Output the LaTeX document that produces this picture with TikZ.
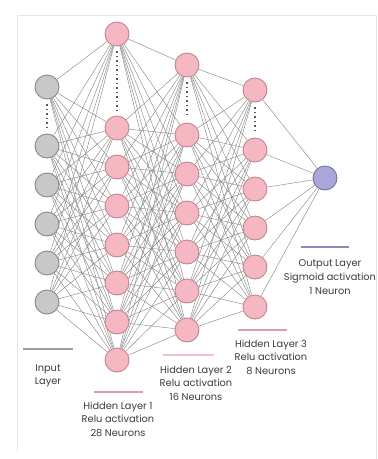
\documentclass[tikz,border=0pt]{standalone}
\usepackage{fontspec}
\setmainfont{Poppins}
\usetikzlibrary{backgrounds}
\definecolor{pinkfill}{HTML}{F5B8C2}
\definecolor{pinkdraw}{HTML}{C08590}
\definecolor{grayfill}{HTML}{C8C8C8}
\definecolor{graydraw}{HTML}{888888}
\definecolor{purpfill}{HTML}{ABA6DA}
\definecolor{purpdraw}{HTML}{77719F}
\definecolor{edgecol}{HTML}{8A8A8A}
\definecolor{framecol}{HTML}{E4E4E4}
\definecolor{txtcol}{HTML}{3A3A3A}
\definecolor{barpink}{HTML}{E09CA6}
\definecolor{barpinklight}{HTML}{F2C2C9}
\definecolor{barpurp}{HTML}{8C87C2}
\definecolor{bargray}{HTML}{A0A0A0}
\tikzset{
  neuron/.style={circle, minimum size=24pt, inner sep=0pt, line width=0.9pt},
  inneuron/.style={neuron, fill=grayfill, draw=graydraw},
  hidneuron/.style={neuron, fill=pinkfill, draw=pinkdraw},
  outneuron/.style={neuron, fill=purpfill, draw=purpdraw},
  conn/.style={draw=edgecol, line width=0.45pt},
  dotline/.style={draw=black!65, line width=1.6pt, dash pattern=on 1.5pt off 3pt},
  bar/.style={line width=2.4pt},
  lbl/.style={font=\fontsize{9.8}{13.6}\selectfont, text=txtcol, align=center, inner sep=0pt},
}
\begin{document}
\begin{tikzpicture}[x=1pt,y=-1pt]
\useasboundingbox (0,0) rectangle (378,459);
\draw[framecol, line width=1pt] (17,451) -- (17,15) -- (376,15) -- (376,459);
% input layer
\foreach \y [count=\i] in {87,146,185,224,263,302}
  \node[inneuron] (i\i) at (47,\y) {};
% hidden 1
\foreach \y [count=\i] in {34,128,167,206,245,283,322,360}
  \node[hidneuron] (a\i) at (117,\y) {};
% hidden 2
\foreach \y [count=\i] in {65,135,174,213,252,291,330}
  \node[hidneuron] (b\i) at (187,\y) {};
% hidden 3
\foreach \y [count=\i] in {90,150,189,228,267,307}
  \node[hidneuron] (c\i) at (255,\y) {};
% output
\node[outneuron] (o) at (325,178) {};
% connections
\begin{scope}[on background layer]
\foreach \s in {1,...,6} \foreach \t in {1,...,8} \draw[conn] (i\s) -- (a\t);
\foreach \s in {1,...,8} \foreach \t in {1,...,7} \draw[conn] (a\s) -- (b\t);
\foreach \s in {1,...,7} \foreach \t in {1,...,6} \draw[conn] (b\s) -- (c\t);
\foreach \s in {1,...,6} \draw[conn] (c\s) -- (o);
\end{scope}
% dotted lines
\path (i1.south) ++(0,5) coordinate (di1) (i2.north) ++(0,-5) coordinate (di2);
\draw[dotline] (di1) -- (di2);
\path (a1.south) ++(0,5) coordinate (da1) (a2.north) ++(0,-5) coordinate (da2);
\draw[dotline] (da1) -- (da2);
\path (b1.south) ++(0,5) coordinate (db1) (b2.north) ++(0,-5) coordinate (db2);
\draw[dotline] (db1) -- (db2);
\path (c1.south) ++(0,5) coordinate (dc1) (c2.north) ++(0,-5) coordinate (dc2);
\draw[dotline] (dc1) -- (dc2);
% bars
\coordinate (bi1) at (23,349); \coordinate (bi2) at (73,349);
\draw[bar, draw=bargray] (bi1) -- (bi2);
\coordinate (ba1) at (94,392); \coordinate (ba2) at (143,392);
\draw[bar, draw=barpink] (ba1) -- (ba2);
\coordinate (bb1) at (163,355); \coordinate (bb2) at (214,355);
\draw[bar, draw=barpinklight] (bb1) -- (bb2);
\coordinate (bc1) at (238,330); \coordinate (bc2) at (287,330);
\draw[bar, draw=barpink] (bc1) -- (bc2);
\coordinate (bo1) at (301,247); \coordinate (bo2) at (349,247);
\draw[bar, draw=barpurp] (bo1) -- (bo2);
% labels
\node[lbl] (li) at (48,376) {Input\\Layer};
\node[lbl] (la) at (118,419) {Hidden Layer 1\\Relu activation\\28 Neurons};
\node[lbl] (lb) at (196,383) {Hidden Layer 2\\Relu activation\\16 Neurons};
\node[lbl] (lc) at (271,357) {Hidden Layer 3\\Relu activation\\8 Neurons};
\node[lbl] (lo) at (330,277) {Output Layer\\Sigmoid activation\\1 Neuron};
\end{tikzpicture}
\end{document}
